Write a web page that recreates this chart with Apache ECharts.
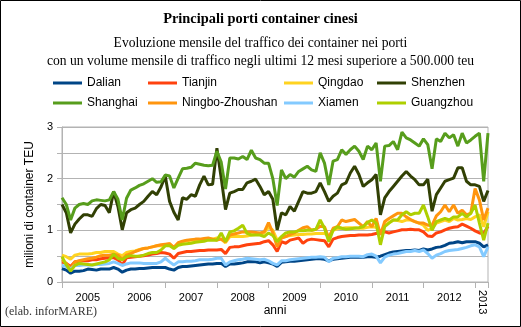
<!DOCTYPE html>
<html>
<head>
<meta charset="utf-8">
<script src="https://cdn.jsdelivr.net/npm/echarts@6/dist/echarts.min.js"></script>
<style>
html,body{margin:0;padding:0;background:#fff;}
#chart{width:521px;height:327px;}
</style>
</head>
<body>
<div id="chart"></div>
<script>
// ---- data ----
const yearLabels = ['2005','2006','2007','2008','2009','2010','2011','2012'];
const lastYearLabel = '2013';
const monthNames = ['01','02','03','04','05','06','07','08','09','10','11','12'];
const allYears = ['2005','2006','2007','2008','2009','2010','2011','2012','2013'];
const lastYearMonths = 4;
const yTickLabels = ['0','1','2','3'];

const seriesNames = ['Dalian','Tianjin','Qingdao','Shenzhen','Shanghai','Ningbo-Zhoushan','Xiamen','Guangzhou'];

const dalian = [
0.26,0.23,0.17,0.21,0.21,0.22,0.25,0.24,0.23,0.25,0.25,0.25,
0.28,0.25,0.19,0.23,0.25,0.25,0.26,0.26,0.27,0.28,0.28,0.28,
0.28,0.25,0.23,0.28,0.30,0.30,0.31,0.32,0.33,0.34,0.35,0.35,
0.36,0.36,0.30,0.35,0.35,0.36,0.37,0.39,0.39,0.39,0.37,0.39,
0.37,0.35,0.30,0.38,0.39,0.40,0.40,0.41,0.42,0.43,0.44,0.45,
0.45,0.44,0.41,0.44,0.45,0.46,0.47,0.48,0.48,0.48,0.48,0.49,
0.49,0.48,0.50,0.53,0.56,0.58,0.59,0.60,0.61,0.61,0.62,0.61,
0.64,0.62,0.64,0.67,0.68,0.71,0.75,0.76,0.78,0.76,0.78,0.78,
0.78,0.75,0.68,0.72];
const tianjin = [
0.39,0.36,0.30,0.39,0.40,0.41,0.41,0.43,0.43,0.45,0.46,0.47,
0.47,0.43,0.33,0.47,0.48,0.49,0.50,0.51,0.52,0.54,0.55,0.57,
0.56,0.54,0.46,0.55,0.57,0.59,0.59,0.60,0.61,0.61,0.62,0.62,
0.62,0.63,0.55,0.67,0.68,0.68,0.70,0.72,0.73,0.74,0.75,0.78,
0.80,0.72,0.59,0.78,0.75,0.81,0.83,0.85,0.75,0.81,0.83,0.82,
0.81,0.80,0.68,0.83,0.86,0.88,0.89,0.90,0.90,0.91,0.91,0.91,
0.92,0.94,0.95,0.97,0.95,0.97,0.99,1.01,1.01,1.02,1.01,1.01,
0.97,0.89,0.88,0.95,0.97,1.01,1.04,1.06,1.07,1.12,1.08,1.04,
0.99,0.95,0.94,1.08];
const qingdao = [
0.52,0.49,0.44,0.52,0.54,0.54,0.54,0.55,0.57,0.57,0.59,0.59,
0.59,0.54,0.51,0.57,0.59,0.60,0.63,0.65,0.66,0.68,0.70,0.70,
0.72,0.74,0.65,0.75,0.78,0.80,0.81,0.81,0.81,0.82,0.83,0.83,
0.85,0.83,0.76,0.88,0.88,0.88,0.88,0.89,0.91,0.92,0.93,0.95,
1.06,1.00,0.81,0.86,0.88,0.90,0.91,0.92,0.92,0.93,0.93,0.94,
0.94,0.94,0.89,1.00,1.03,1.04,1.05,1.05,1.05,1.04,1.04,1.06,
1.07,1.06,0.94,1.10,1.15,1.20,1.19,1.17,1.20,1.20,1.17,1.14,
1.10,1.00,1.04,1.14,1.17,1.20,1.17,1.23,1.20,1.21,1.23,1.21,
1.26,1.30,1.07,1.36];
const shenzhen = [
1.50,1.34,0.95,1.12,1.22,1.30,1.30,1.27,1.42,1.50,1.48,1.34,
1.75,1.46,1.01,1.34,1.40,1.43,1.50,1.56,1.66,1.75,1.69,1.84,
2.05,1.56,1.35,1.20,1.63,1.60,1.69,1.66,1.88,2.05,1.88,1.89,
2.59,2.01,1.40,1.72,1.75,1.79,1.79,1.92,1.95,1.99,1.85,1.69,
1.75,1.60,1.01,1.34,1.30,1.46,1.37,1.56,1.75,1.72,1.72,1.75,
1.92,1.75,1.56,1.66,1.72,1.88,1.92,2.11,2.24,2.08,1.85,1.92,
1.98,2.08,1.30,1.63,1.75,1.85,1.95,2.05,2.14,2.05,1.98,1.88,
1.88,1.99,1.37,1.69,1.82,1.95,1.98,2.01,2.21,2.21,1.95,1.88,
1.88,1.85,1.56,1.77];
const shanghai = [
1.63,1.50,1.20,1.43,1.50,1.52,1.50,1.57,1.59,1.58,1.57,1.59,
1.75,1.60,1.20,1.62,1.78,1.82,1.87,1.90,1.95,2.00,1.93,1.94,
2.07,2.05,1.82,2.01,2.19,2.20,2.22,2.30,2.28,2.26,2.25,2.26,
2.53,2.32,1.80,2.40,2.40,2.38,2.43,2.37,2.55,2.40,2.37,2.30,
2.30,2.00,1.48,2.17,2.00,2.08,2.03,2.14,2.19,2.24,2.17,2.14,
2.50,2.30,1.88,2.34,2.37,2.56,2.47,2.56,2.63,2.53,2.37,2.63,
2.56,2.69,1.95,2.63,2.64,2.72,2.56,2.90,2.79,2.75,2.69,2.63,
2.77,2.66,2.19,2.77,2.72,2.88,2.79,2.85,2.63,2.88,2.69,2.75,
2.82,2.88,1.95,2.88];
const ningbo = [
0.43,0.36,0.26,0.39,0.41,0.43,0.45,0.46,0.48,0.51,0.52,0.52,
0.54,0.52,0.43,0.52,0.55,0.59,0.62,0.65,0.66,0.68,0.70,0.72,
0.73,0.74,0.67,0.76,0.79,0.81,0.82,0.83,0.83,0.84,0.85,0.83,
0.81,0.83,0.78,0.91,0.93,0.95,0.97,0.97,0.97,0.96,0.95,0.97,
1.15,0.95,0.68,0.85,0.88,0.92,0.95,1.00,1.05,1.07,1.00,1.02,
1.08,1.07,0.85,1.04,1.07,1.20,1.17,1.19,1.21,1.14,1.07,1.17,
1.07,1.23,0.91,1.17,1.23,1.28,1.33,1.33,1.26,1.21,1.17,1.14,
1.14,1.10,1.10,1.28,1.36,1.49,1.36,1.49,1.33,1.39,1.30,1.33,
1.81,1.59,1.20,1.43];
const xiamen = [
0.32,0.30,0.25,0.32,0.32,0.33,0.33,0.33,0.34,0.34,0.35,0.36,
0.39,0.36,0.32,0.35,0.37,0.37,0.37,0.36,0.36,0.36,0.36,0.39,
0.46,0.39,0.33,0.39,0.39,0.40,0.40,0.41,0.43,0.43,0.43,0.44,
0.46,0.46,0.33,0.39,0.41,0.43,0.44,0.46,0.45,0.44,0.43,0.44,
0.41,0.36,0.33,0.41,0.41,0.43,0.44,0.45,0.46,0.47,0.48,0.48,
0.49,0.48,0.39,0.46,0.47,0.49,0.49,0.50,0.50,0.50,0.49,0.53,
0.54,0.50,0.37,0.48,0.52,0.54,0.55,0.57,0.59,0.59,0.61,0.59,
0.62,0.55,0.46,0.52,0.55,0.59,0.61,0.62,0.63,0.65,0.67,0.70,
0.72,0.68,0.49,0.68];
const guangzhou = [
0.49,0.33,0.21,0.32,0.36,0.35,0.34,0.33,0.35,0.37,0.39,0.43,
0.54,0.46,0.43,0.49,0.51,0.50,0.50,0.52,0.55,0.57,0.57,0.62,
0.70,0.70,0.65,0.71,0.73,0.74,0.75,0.77,0.78,0.79,0.81,0.81,
0.81,0.95,0.78,0.97,0.99,1.04,1.10,0.94,0.91,0.91,0.91,0.88,
0.95,0.90,0.78,0.88,0.95,0.97,0.97,0.99,0.99,1.00,1.00,1.02,
1.20,1.04,0.78,1.00,1.07,1.04,1.02,1.03,1.04,1.05,1.07,1.15,
1.20,1.14,0.72,1.07,1.14,1.20,1.20,1.30,1.36,1.30,1.33,1.33,
1.49,1.26,1.00,1.17,1.20,1.23,1.20,1.26,1.26,1.33,1.26,1.33,
1.49,1.14,0.81,1.14];

const seriesValues = [dalian, tianjin, qingdao, shenzhen, shanghai, ningbo, xiamen, guangzhou];
const seriesColors = ['#004586','#ff420e','#ffd320','#314004','#579d1c','#ff950e','#83caff','#aecf00'];

const titleText = 'Principali porti container cinesi';
const subtitleLines = [
  'Evoluzione mensile del traffico dei container nei porti',
  'con un volume mensile di traffico negli ultimi 12 mesi superiore a 500.000 teu'
];
const sourceText = '(elab. inforMARE)';

// month categories
const months = [];
allYears.forEach(function (y, k) {
  const n = (k === allYears.length - 1) ? lastYearMonths : 12;
  for (let m = 0; m < n; m++) months.push(y + '-' + monthNames[m]);
});

// ---- layout ----
const legendCols = [53, 148, 284, 377];
const legendRows = [77, 97];
const subtitleTops = [36, 54];
const gridCol = '#b3b3b3';
const sans = 'Liberation Sans';
const serif = 'Liberation Serif';

const chart = echarts.init(document.getElementById('chart'), null, {renderer: 'canvas'});

const legends = seriesNames.map(function (n, k) {
  return {
    data: [n], left: legendCols[k % 4], top: legendRows[Math.floor(k / 4)],
    icon: 'rect', itemWidth: 29, itemHeight: 3, padding: 0, selectedMode: false,
    textStyle: {fontFamily: sans, fontSize: 12, color: '#000'}
  };
});

const titles = [
  {text: titleText, left: 'center', top: 12, padding: 0,
   textStyle: {fontFamily: serif, fontWeight: 'bold', fontSize: 14.4, color: '#000'}}
].concat(subtitleLines.map(function (t, k) {
  return {text: t, left: 'center', top: subtitleTops[k], padding: 0,
    textStyle: {fontFamily: serif, fontWeight: 'normal', fontSize: 13.6, color: '#000'}};
})).concat([
  {text: sourceText, left: 5, top: 306, padding: 0,
   textStyle: {fontFamily: serif, fontWeight: 'normal', fontSize: 12, color: '#333'}}
]);

const option = {
  animation: false,
  backgroundColor: '#fff',
  title: titles,
  legend: legends,
  grid: {left: 62, right: 33, top: 127, bottom: 45, show: true, borderColor: gridCol, borderWidth: 1, containLabel: false},
  xAxis: [
    {
      type: 'category', data: months, boundaryGap: false,
      axisLine: {lineStyle: {color: gridCol, width: 1}},
      axisTick: {show: true, length: 6, lineStyle: {color: gridCol},
        interval: function (i) { return i % 12 === 0 || i === months.length - 1; }},
      axisLabel: {interval: function (i) { return i % 12 === 6; },
        formatter: function (v, i) { return yearLabels[Math.floor(i / 12)] || ''; },
        fontFamily: sans, fontSize: 11, color: '#000', margin: 10},
      splitLine: {show: false},
      name: 'anni', nameLocation: 'middle', nameGap: 23,
      nameTextStyle: {fontFamily: sans, fontSize: 12, color: '#000'}
    },
    {
      type: 'value', min: 0, max: months.length - 1, interval: 97.5, position: 'bottom',
      axisLine: {show: false}, axisTick: {show: false}, splitLine: {show: false},
      axisLabel: {rotate: -90, margin: 8, fontFamily: sans, fontSize: 11, color: '#000',
        formatter: function (v) { return v === 97.5 ? lastYearLabel : ''; }}
    }
  ],
  yAxis: {
    type: 'value', min: 0, max: 3, interval: 0.5,
    axisLine: {show: true, lineStyle: {color: gridCol}},
    axisTick: {show: true, length: 5, lineStyle: {color: gridCol}},
    splitLine: {show: true, lineStyle: {color: gridCol, width: 1}},
    axisLabel: {fontFamily: sans, fontSize: 11, color: '#000', margin: 9,
      formatter: function (v) { return v % 1 === 0 ? yTickLabels[v] : ''; }},
    name: 'milioni di container TEU', nameLocation: 'middle', nameGap: 24,
    nameTextStyle: {fontFamily: sans, fontSize: 12, color: '#000'}
  },
  series: seriesNames.map(function (n, k) {
    return {
      name: n, type: 'line', data: seriesValues[k], xAxisIndex: 0,
      showSymbol: false, symbol: 'none', smooth: false,
      lineStyle: {width: 3, color: seriesColors[k]},
      itemStyle: {color: seriesColors[k]},
      emphasis: {disabled: true}
    };
  }),
  graphic: [{
    type: 'rect', shape: {x: 0.5, y: 0.5, width: 520, height: 326},
    style: {fill: 'none', stroke: '#000', lineWidth: 1}, silent: true, z: 100
  }]
};
chart.setOption(option);
</script>
</body>
</html>
